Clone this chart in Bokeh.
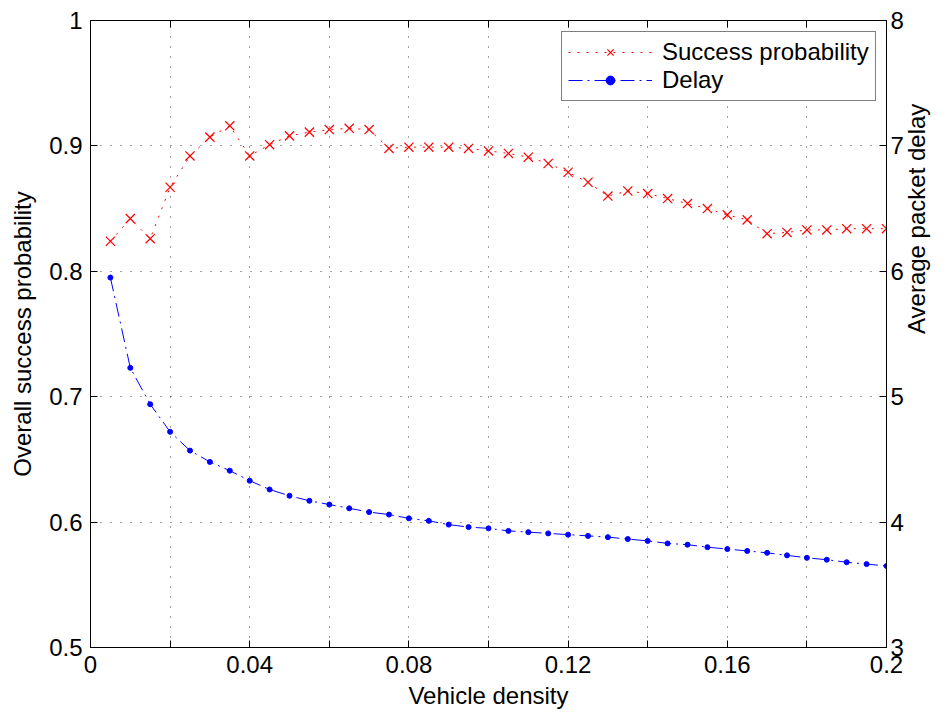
import math
from bokeh.plotting import figure
from bokeh.models import (Range1d, LinearAxis, FixedTicker, Legend, LegendItem)
from bokeh.embed import file_html
from bokeh.resources import INLINE

# ---------------- data ----------------
vehicle_density = [0.005, 0.010, 0.015, 0.020, 0.025, 0.030, 0.035, 0.040,
                   0.045, 0.050, 0.055, 0.060, 0.065, 0.070, 0.075, 0.080,
                   0.085, 0.090, 0.095, 0.100, 0.105, 0.110, 0.115, 0.120,
                   0.125, 0.130, 0.135, 0.140, 0.145, 0.150, 0.155, 0.160,
                   0.165, 0.170, 0.175, 0.180, 0.185, 0.190, 0.195, 0.200]

success_probability = [0.824, 0.842, 0.826, 0.867, 0.892, 0.907, 0.916, 0.892,
                       0.901, 0.908, 0.911, 0.913, 0.914, 0.913, 0.898, 0.899,
                       0.899, 0.899, 0.898, 0.896, 0.894, 0.891, 0.886, 0.879,
                       0.871, 0.860, 0.864, 0.862, 0.858, 0.854, 0.850, 0.845,
                       0.841, 0.830, 0.831, 0.833, 0.833, 0.834, 0.834, 0.834]

packet_delay = [5.95, 5.23, 4.94, 4.72, 4.57, 4.48, 4.41, 4.33,
                4.26, 4.21, 4.17, 4.14, 4.11, 4.08, 4.06, 4.03,
                4.01, 3.98, 3.96, 3.95, 3.93, 3.92, 3.91, 3.90,
                3.89, 3.88, 3.865, 3.85, 3.83, 3.82, 3.80, 3.785,
                3.77, 3.755, 3.735, 3.715, 3.70, 3.68, 3.665, 3.65]

x_label_ticks = [0.0, 0.04, 0.08, 0.12, 0.16, 0.20]
x_tick_labels = ["0", "0.04", "0.08", "0.12", "0.16", "0.2"]
x_between_ticks = [0.02, 0.06, 0.10, 0.14, 0.18]
x_all_ticks = [0.0, 0.02, 0.04, 0.06, 0.08, 0.10, 0.12, 0.14, 0.16, 0.18, 0.20]
y_left_ticks = [0.5, 0.6, 0.7, 0.8, 0.9, 1.0]
y_left_labels = ["0.5", "0.6", "0.7", "0.8", "0.9", "1"]
y_right_ticks = [3, 4, 5, 6, 7, 8]
y_right_labels = ["3", "4", "5", "6", "7", "8"]

FONT = "Liberation Sans"
FS = "24px"

p = figure(width=946, height=714, output_backend="svg", toolbar_location=None,
           x_range=Range1d(0, 0.2), y_range=Range1d(0.5, 1.0),
           min_border_left=90, min_border_right=54, min_border_top=20,
           min_border_bottom=67)
p.extra_y_ranges = {"delay": Range1d(3, 8)}
p.background_fill_color = "white"
p.border_fill_color = "white"
p.outline_line_color = "black"
p.outline_line_width = 1


def style_axis(ax):
    ax.major_tick_in = 7
    ax.major_tick_out = 0
    ax.minor_tick_in = 7
    ax.minor_tick_out = 0
    ax.minor_tick_line_color = "black"
    ax.axis_line_color = "black"
    ax.axis_line_width = 1
    ax.major_tick_line_color = "black"
    ax.major_label_text_font = FONT
    ax.major_label_text_font_size = FS
    ax.major_label_text_color = "black"
    ax.axis_label_text_font = FONT
    ax.axis_label_text_font_size = FS
    ax.axis_label_text_font_style = "normal"
    ax.axis_label_text_color = "black"


xa = p.xaxis[0]
style_axis(xa)
xa.ticker = FixedTicker(ticks=x_label_ticks, minor_ticks=x_between_ticks)
xa.major_label_overrides = dict(zip(x_label_ticks, x_tick_labels))
xa.axis_label = "Vehicle density"
xa.major_label_standoff = 8
xa.axis_label_standoff = 6

ya = p.yaxis[0]
style_axis(ya)
ya.ticker = FixedTicker(ticks=y_left_ticks)
ya.major_label_overrides = dict(zip(y_left_ticks, y_left_labels))
ya.axis_label = "Overall success probability"
ya.major_label_standoff = 8
ya.axis_label_standoff = 10

yr = LinearAxis(y_range_name="delay", axis_label="Average packet delay",
                ticker=FixedTicker(ticks=y_right_ticks))
style_axis(yr)
yr.major_label_overrides = dict(zip(y_right_ticks, y_right_labels))
yr.major_label_standoff = 4
yr.axis_label_standoff = 10
yr.axis_label_orientation = math.pi / 2
p.add_layout(yr, "right")

xt = LinearAxis(ticker=FixedTicker(ticks=[], minor_ticks=x_all_ticks))
style_axis(xt)
xt.major_label_standoff = 0
p.add_layout(xt, "above")

p.xgrid.ticker = FixedTicker(ticks=x_label_ticks, minor_ticks=x_between_ticks)
p.ygrid.ticker = FixedTicker(ticks=y_left_ticks)
for g in (p.xgrid, p.ygrid):
    g.grid_line_color = "black"
    g.grid_line_alpha = 0.75
    g.grid_line_dash = "1 9"
    g.grid_line_width = 1
p.xgrid.minor_grid_line_color = "black"
p.xgrid.minor_grid_line_alpha = 0.75
p.xgrid.minor_grid_line_dash = "1 9"
p.xgrid.minor_grid_line_width = 1

l1 = p.line(vehicle_density, success_probability, line_color="#ff0000",
            line_width=1, line_dash="2 7")
s1 = p.scatter(vehicle_density, success_probability, marker="x", size=13,
               line_color="#ff0000", line_width=1.2)

l2 = p.line(vehicle_density, packet_delay, line_color="#0000ff", line_width=1,
            line_dash="14 5 2 5", y_range_name="delay")
s2 = p.scatter(vehicle_density, packet_delay, marker="circle", size=5,
               fill_color="#0000ff", line_color="#0000ff",
               y_range_name="delay")

legend = Legend(items=[LegendItem(label="Success probability", renderers=[l1, s1]),
                       LegendItem(label="Delay", renderers=[l2, s2])],
                location=(471, 546))
legend.label_text_font = FONT
legend.label_text_font_size = FS
legend.label_text_color = "black"
legend.border_line_color = "black"
legend.border_line_width = 1
legend.background_fill_color = "white"
legend.background_fill_alpha = 1
legend.glyph_width = 84
legend.glyph_height = 22
legend.label_standoff = 10
legend.padding = 6
legend.spacing = 0
legend.margin = 0
p.add_layout(legend)

open("out.html", "w").write(file_html(p, INLINE))
